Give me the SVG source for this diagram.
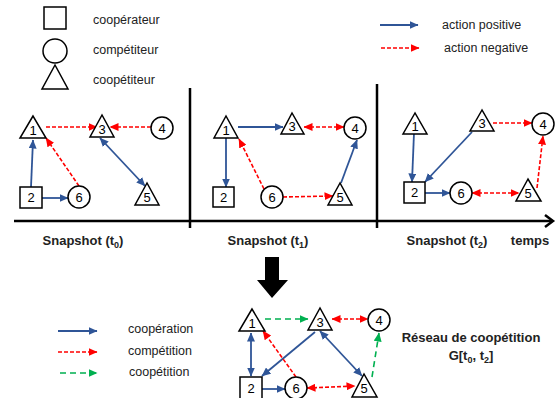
<svg xmlns="http://www.w3.org/2000/svg" width="557" height="398" viewBox="0 0 557 398">
<defs>
<style>
.n{fill:#fff;stroke:#000;stroke-width:1.5}
.lbl{font-family:"Liberation Sans",Arial,sans-serif;font-size:13px;fill:#000;text-anchor:middle}
.leg{font-family:"Liberation Sans",Arial,sans-serif;font-size:12.5px;fill:#222}
.b{font-family:"Liberation Sans",Arial,sans-serif;font-size:13px;font-weight:bold;fill:#222}
.pos{stroke:#2F5597;stroke-width:1.8;fill:none}
.neg{stroke:#FF0000;stroke-width:1.6;fill:none;stroke-dasharray:4 2}
.grn{stroke:#00B050;stroke-width:1.6;fill:none;stroke-dasharray:6 4}
</style>
<marker id="bE" markerUnits="userSpaceOnUse" markerWidth="9" markerHeight="8" refX="8.5" refY="4" orient="auto"><path d="M0,0 L9,4 L0,8z" fill="#2F5597"/></marker>
<marker id="bS" markerUnits="userSpaceOnUse" markerWidth="9" markerHeight="8" refX="8.5" refY="4" orient="auto-start-reverse"><path d="M0,0 L9,4 L0,8z" fill="#2F5597"/></marker>
<marker id="rE" markerUnits="userSpaceOnUse" markerWidth="9" markerHeight="8" refX="8.5" refY="4" orient="auto"><path d="M0,0 L9,4 L0,8z" fill="#FF0000"/></marker>
<marker id="rS" markerUnits="userSpaceOnUse" markerWidth="9" markerHeight="8" refX="8.5" refY="4" orient="auto-start-reverse"><path d="M0,0 L9,4 L0,8z" fill="#FF0000"/></marker>
<marker id="gE" markerUnits="userSpaceOnUse" markerWidth="9" markerHeight="8" refX="8.5" refY="4" orient="auto"><path d="M0,0 L9,4 L0,8z" fill="#00B050"/></marker>
</defs>
<rect width="557" height="398" fill="#fff"/>

<!-- top legend -->
<g id="legend-shapes">
<rect class="n" x="44" y="7" width="22" height="22"/>
<circle class="n" cx="55" cy="51" r="12"/>
<polygon class="n" points="55,65 42,89 68,89"/>
<text class="leg" x="93" y="24">coopérateur</text>
<text class="leg" x="93" y="54">compétiteur</text>
<text class="leg" x="93" y="84">coopétiteur</text>
</g>
<g id="legend-actions">
<line class="pos" x1="380" y1="25" x2="418" y2="25" marker-end="url(#bE)"/>
<line class="neg" x1="381" y1="48" x2="419" y2="48" marker-end="url(#rE)"/>
<text class="leg" x="442" y="29">action positive</text>
<text class="leg" x="444" y="52">action negative</text>
</g>

<!-- timeline -->
<g id="timeline" stroke="#000" stroke-width="2.5" fill="none">
<line x1="14" y1="221" x2="552" y2="221"/>
<polyline points="545,215 553,221 545,227"/>
<line x1="190" y1="88" x2="190" y2="228"/>
<line x1="377" y1="84" x2="377" y2="228"/>
</g>
<text class="b" x="83" y="245" text-anchor="middle">Snapshot (t<tspan font-size="9" dy="3">0</tspan><tspan dy="-3">)</tspan></text>
<text class="b" x="268" y="245" text-anchor="middle">Snapshot (t<tspan font-size="9" dy="3">1</tspan><tspan dy="-3">)</tspan></text>
<text class="b" x="447" y="245" text-anchor="middle">Snapshot (t<tspan font-size="9" dy="3">2</tspan><tspan dy="-3">)</tspan></text>
<text class="b" x="530" y="245" text-anchor="middle">temps</text>

<!-- connectors -->
<g id="connectors">
<!-- t0 -->
<line class="neg" x1="46" y1="127" x2="97" y2="127" marker-end="url(#rE)"/>
<line class="neg" x1="151" y1="127" x2="110" y2="127" marker-end="url(#rE)"/>
<line class="pos" x1="31" y1="187" x2="33" y2="140" marker-end="url(#bE)"/>
<line class="pos" x1="42" y1="198" x2="68" y2="198" marker-end="url(#bE)"/>
<line class="neg" x1="79" y1="186" x2="46" y2="138" marker-end="url(#rE)"/>
<line class="pos" x1="100" y1="138" x2="145" y2="186" marker-start="url(#bS)" marker-end="url(#bE)"/>
<!-- t1 -->
<line class="pos" x1="238" y1="127" x2="283" y2="127" marker-end="url(#bE)"/>
<line class="pos" x1="226" y1="138" x2="226" y2="187" marker-end="url(#bE)"/>
<line class="neg" x1="304" y1="127" x2="344" y2="127" marker-start="url(#rS)" marker-end="url(#rE)"/>
<line class="neg" x1="264" y1="189" x2="239" y2="139" marker-end="url(#rE)"/>
<line class="neg" x1="283" y1="197" x2="333" y2="196" marker-end="url(#rE)"/>
<line class="pos" x1="341" y1="183" x2="357" y2="140" marker-end="url(#bE)"/>
<!-- t2 -->
<line class="pos" x1="414" y1="133" x2="412" y2="182" marker-end="url(#bE)"/>
<line class="pos" x1="472" y1="132" x2="425" y2="182" marker-end="url(#bE)"/>
<line class="pos" x1="425" y1="193" x2="450" y2="193" marker-end="url(#bE)"/>
<line class="neg" x1="493" y1="123" x2="532" y2="123" marker-end="url(#rE)"/>
<line class="neg" x1="472" y1="193" x2="519" y2="193" marker-start="url(#rS)" marker-end="url(#rE)"/>
<line class="neg" x1="537" y1="188" x2="543" y2="136" marker-end="url(#rE)"/>
<!-- aggregated -->
<line class="grn" x1="265" y1="319" x2="308" y2="319" marker-end="url(#gE)"/>
<line class="neg" x1="332" y1="319" x2="368" y2="319" marker-start="url(#rS)" marker-end="url(#rE)"/>
<line class="pos" x1="251" y1="333" x2="251" y2="376" marker-start="url(#bS)" marker-end="url(#bE)"/>
<line class="pos" x1="315" y1="332" x2="262" y2="376" marker-end="url(#bE)"/>
<line class="neg" x1="296" y1="377" x2="263" y2="331" marker-end="url(#rE)"/>
<line class="pos" x1="320" y1="331" x2="362" y2="376" marker-start="url(#bS)" marker-end="url(#bE)"/>
<line class="pos" x1="262" y1="389" x2="285" y2="389" marker-end="url(#bE)"/>
<line class="neg" x1="307" y1="388" x2="355" y2="386" marker-start="url(#rS)" marker-end="url(#rE)"/>
<line class="grn" x1="372" y1="377" x2="379" y2="333" marker-end="url(#gE)"/>
</g>

<!-- t0 nodes -->
<g id="t0-n1"><polygon class="n" points="33,116 20,138 46,138"/><text class="lbl" x="33" y="135">1</text></g>
<g id="t0-n3"><polygon class="n" points="102,115 90,137 114,137"/><text class="lbl" x="102" y="134">3</text></g>
<g id="t0-n4"><circle class="n" cx="162" cy="128" r="11"/><text class="lbl" x="162" y="132.5">4</text></g>
<g id="t0-n2"><rect class="n" x="20" y="187" width="22" height="21"/><text class="lbl" x="31" y="202">2</text></g>
<g id="t0-n6"><circle class="n" cx="79" cy="197" r="11"/><text class="lbl" x="79" y="201.5">6</text></g>
<g id="t0-n5"><polygon class="n" points="147,183 135,205 159,205"/><text class="lbl" x="147" y="202">5</text></g>

<!-- t1 nodes -->
<g id="t1-n1"><polygon class="n" points="226,116 214,138 238,138"/><text class="lbl" x="226" y="135">1</text></g>
<g id="t1-n3"><polygon class="n" points="292,113 281,134 304,134"/><text class="lbl" x="292" y="131">3</text></g>
<g id="t1-n4"><circle class="n" cx="355" cy="128" r="11"/><text class="lbl" x="355" y="132.5">4</text></g>
<g id="t1-n2"><rect class="n" x="213" y="187" width="21" height="20"/><text class="lbl" x="223.5" y="201.5">2</text></g>
<g id="t1-n6"><circle class="n" cx="272" cy="197" r="11"/><text class="lbl" x="272" y="201.5">6</text></g>
<g id="t1-n5"><polygon class="n" points="340,183 328,205 352,205"/><text class="lbl" x="340" y="202">5</text></g>

<!-- t2 nodes -->
<g id="t2-n1"><polygon class="n" points="415,113 403,134 427,134"/><text class="lbl" x="415" y="131">1</text></g>
<g id="t2-n3"><polygon class="n" points="482,110 470,131 494,131"/><text class="lbl" x="482" y="128">3</text></g>
<g id="t2-n4"><circle class="n" cx="543" cy="124" r="11"/><text class="lbl" x="543" y="128.5">4</text></g>
<g id="t2-n2"><rect class="n" x="404" y="182" width="21" height="21"/><text class="lbl" x="414.5" y="197">2</text></g>
<g id="t2-n6"><circle class="n" cx="461" cy="193" r="11"/><text class="lbl" x="461" y="197.5">6</text></g>
<g id="t2-n5"><polygon class="n" points="528,179 516,201 541,201"/><text class="lbl" x="528" y="198">5</text></g>

<!-- big arrow -->
<g id="transform-arrow"><polygon points="265,257 279,257 279,280 288,280 272,298 257,280 265,280" fill="#000"/></g>

<!-- bottom legend -->
<g id="legend-relations">
<line class="pos" x1="58" y1="331" x2="97" y2="331" marker-end="url(#bE)"/>
<line class="neg" x1="58" y1="352" x2="97" y2="352" marker-end="url(#rE)"/>
<line class="grn" x1="60" y1="373" x2="97" y2="373" marker-end="url(#gE)"/>
<text class="leg" x="128" y="333">coopération</text>
<text class="leg" x="128" y="355">compétition</text>
<text class="leg" x="129" y="376">coopétition</text>
</g>

<!-- aggregated nodes -->
<g id="g-n1"><polygon class="n" points="252,309 239,331 265,331"/><text class="lbl" x="252" y="328">1</text></g>
<g id="g-n3"><polygon class="n" points="320,308 308,330 332,330"/><text class="lbl" x="320" y="327">3</text></g>
<g id="g-n4"><circle class="n" cx="379" cy="320" r="11"/><text class="lbl" x="379" y="324.5">4</text></g>
<g id="g-n2"><rect class="n" x="240" y="377" width="22" height="24"/><text class="lbl" x="251" y="393">2</text></g>
<g id="g-n6"><circle class="n" cx="296" cy="388" r="11"/><text class="lbl" x="296" y="392.5">6</text></g>
<g id="g-n5"><polygon class="n" points="364,374 352,397 377,397"/><text class="lbl" x="364" y="393">5</text></g>

<g id="title">
<text class="b" x="471" y="342" text-anchor="middle">Réseau de coopétition</text>
<text class="b" x="471" y="360" text-anchor="middle">G[t<tspan font-size="9" dy="3">0</tspan><tspan dy="-3">, t</tspan><tspan font-size="9" dy="3">2</tspan><tspan dy="-3">]</tspan></text>
</g>
</svg>
